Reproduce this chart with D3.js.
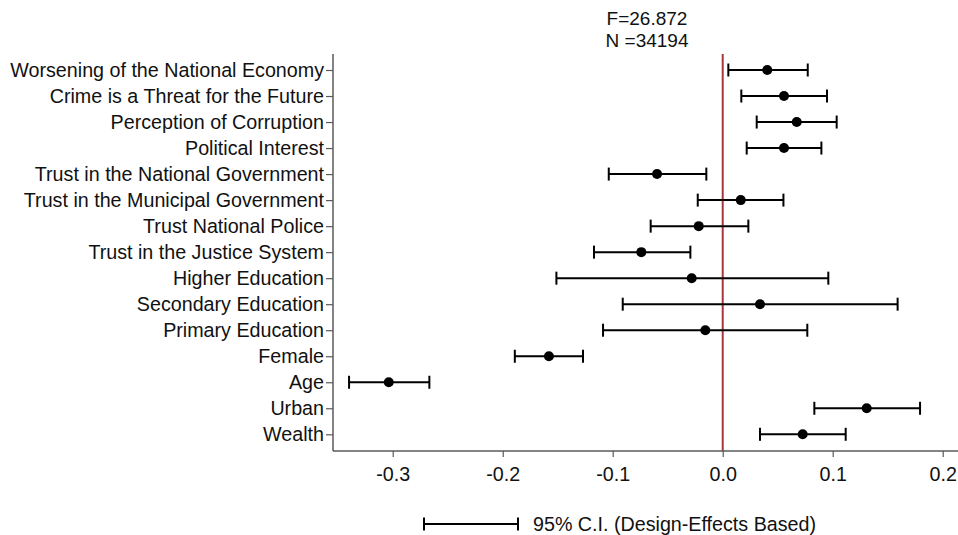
<!DOCTYPE html>
<html>
<head>
<meta charset="utf-8">
<script src="https://cdn.jsdelivr.net/npm/d3@7"></script>
<style>
  html, body { margin: 0; padding: 0; background: #fff; }
  svg { display: block; font-family: "Liberation Sans", Arial, sans-serif; }
</style>
</head>
<body>
<svg id="chart" width="958" height="535"></svg>
<script>
// ---- data ----
const categories = [
  "Worsening of the National Economy",
  "Crime is a Threat for the Future",
  "Perception of Corruption",
  "Political Interest",
  "Trust in the National Government",
  "Trust in the Municipal Government",
  "Trust National Police",
  "Trust in the Justice System",
  "Higher Education",
  "Secondary Education",
  "Primary Education",
  "Female",
  "Age",
  "Urban",
  "Wealth"
];
const estimates = [0.0405, 0.0557, 0.0673, 0.0557, -0.0597, 0.0164, -0.0218, -0.0740, -0.0282, 0.0339, -0.0158, -0.1580, -0.3036, 0.1309, 0.0727];
const lowerCI   = [0.0051, 0.0169, 0.0309, 0.0218, -0.1036, -0.0227, -0.0655, -0.1170, -0.1512, -0.0909, -0.1088, -0.1890, -0.3397, 0.0833, 0.0339];
const upperCI   = [0.0773, 0.0948, 0.1036, 0.0897, -0.0149, 0.0552, 0.0233, -0.0294, 0.0960, 0.1590, 0.0769, -0.1270, -0.2667, 0.1794, 0.1118];
const xTicks = [-0.3, -0.2, -0.1, 0.0, 0.1, 0.2];
const titleLines = ["F=26.872", "N =34194"];
const legendLabel = "95% C.I. (Design-Effects Based)";

// ---- layout ----
const svg = d3.select("#chart");
const FS = 19.7;
const plotLeft = 333, plotRight = 958, plotTop = 54, plotBottom = 451;
const axisColor = "#5a5a5a";
const refColor = "#a8363b";

const x = d3.scaleLinear().domain([-0.3543, 0.2139]).range([plotLeft, plotRight]);
const y = d3.scalePoint().domain(categories).range([70, 434.3]);

const rows = categories.map((c, i) => ({ cat: c, est: estimates[i], lo: lowerCI[i], hi: upperCI[i] }));

// title
svg.append("g").selectAll("text").data(titleLines).join("text")
  .attr("x", 647).attr("y", (d, i) => 24.5 + i * 22)
  .attr("text-anchor", "middle").attr("font-size", 19).attr("fill", "#111")
  .text(d => d);

// reference line at zero
svg.append("line")
  .attr("x1", x(0)).attr("x2", x(0)).attr("y1", plotTop).attr("y2", plotBottom)
  .attr("stroke", refColor).attr("stroke-width", 2);

// y axis
const yAxis = d3.axisLeft(y).tickSize(7).tickPadding(2);
const gy = svg.append("g").attr("transform", `translate(${plotLeft},0)`).call(yAxis);
gy.select(".domain").remove();
gy.selectAll(".tick line").attr("stroke", axisColor).attr("stroke-width", 1.2);
gy.selectAll(".tick text").attr("font-size", FS).attr("fill", "#111")
  .attr("font-family", "Liberation Sans, Arial, sans-serif");
svg.append("line").attr("x1", plotLeft).attr("x2", plotLeft).attr("y1", plotTop).attr("y2", plotBottom)
  .attr("stroke", axisColor).attr("stroke-width", 1.5);

// x axis
const xAxis = d3.axisBottom(x).tickValues(xTicks).tickSize(6).tickPadding(10)
  .tickFormat(d => d3.format(".1f")(d).replace("\u2212", "-"));
const gx = svg.append("g").attr("transform", `translate(0,${plotBottom})`).call(xAxis);
gx.select(".domain").remove();
gx.selectAll(".tick line").attr("stroke", axisColor).attr("stroke-width", 1.2);
gx.selectAll(".tick text").attr("font-size", FS).attr("fill", "#111")
  .attr("font-family", "Liberation Sans, Arial, sans-serif");
svg.append("line").attr("x1", plotLeft).attr("x2", plotRight).attr("y1", plotBottom).attr("y2", plotBottom)
  .attr("stroke", axisColor).attr("stroke-width", 1.5);

// error bars
const capH = 6.5;
const g = svg.append("g");
g.selectAll("line.ci").data(rows).join("line").attr("class", "ci")
  .attr("x1", d => x(d.lo)).attr("x2", d => x(d.hi))
  .attr("y1", d => y(d.cat)).attr("y2", d => y(d.cat))
  .attr("stroke", "#000").attr("stroke-width", 2);
g.selectAll("line.capl").data(rows).join("line").attr("class", "capl")
  .attr("x1", d => x(d.lo)).attr("x2", d => x(d.lo))
  .attr("y1", d => y(d.cat) - capH).attr("y2", d => y(d.cat) + capH)
  .attr("stroke", "#000").attr("stroke-width", 2);
g.selectAll("line.caph").data(rows).join("line").attr("class", "caph")
  .attr("x1", d => x(d.hi)).attr("x2", d => x(d.hi))
  .attr("y1", d => y(d.cat) - capH).attr("y2", d => y(d.cat) + capH)
  .attr("stroke", "#000").attr("stroke-width", 2);
g.selectAll("circle").data(rows).join("circle")
  .attr("cx", d => x(d.est)).attr("cy", d => y(d.cat)).attr("r", 5)
  .attr("fill", "#000");

// legend
const lg = svg.append("g");
const ly = 524, lx1 = 424, lx2 = 518;
lg.append("line").attr("x1", lx1).attr("x2", lx2).attr("y1", ly).attr("y2", ly)
  .attr("stroke", "#000").attr("stroke-width", 2);
[lx1, lx2].forEach(xx => lg.append("line").attr("x1", xx).attr("x2", xx)
  .attr("y1", ly - capH).attr("y2", ly + capH).attr("stroke", "#000").attr("stroke-width", 2));
lg.append("text").attr("x", 533).attr("y", ly + 6.5).attr("font-size", FS).attr("fill", "#111")
  .text(legendLabel);
</script>
</body>
</html>
